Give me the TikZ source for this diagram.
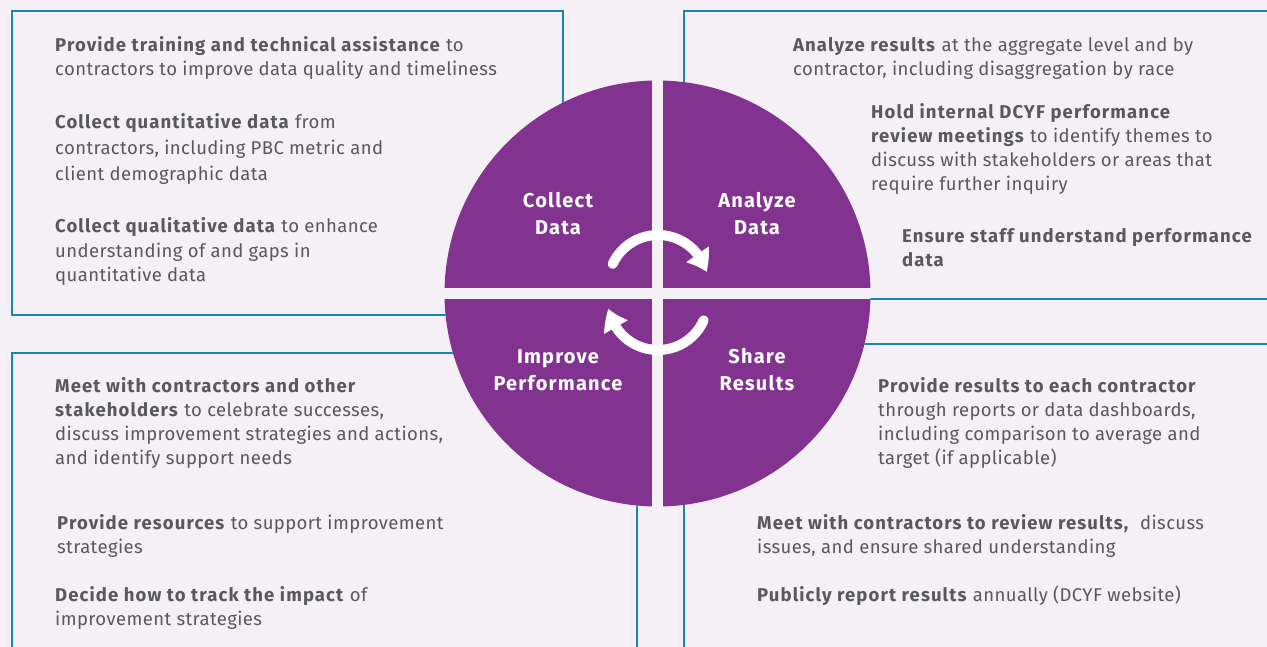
\documentclass[tikz,border=0pt]{standalone}
\usepackage{fontspec}
\setmainfont{Fira Sans}[LetterSpace=2.2, BoldFeatures={LetterSpace=6}]
\usetikzlibrary{arrows.meta,bending}
\definecolor{pagebg}{RGB}{244,240,246}
\definecolor{cyclepurple}{RGB}{130,51,144}
\definecolor{frameteal}{RGB}{22,136,170}
\definecolor{bodygray}{RGB}{88,89,91}
\begin{document}
\begin{tikzpicture}[x=1pt,y=-1pt,
    frame/.style={draw=frameteal, line width=2.5pt},
    item/.style={anchor=base west, inner sep=0pt, align=left, text=bodygray,
      font=\fontsize{18.5}{24}\selectfont},
    stage/.style={text=white, align=center, inner sep=0pt, font=\fontsize{20}{27}\selectfont\bfseries},
    turn/.style={white, line width=10pt, line cap=round, -{Triangle[length=20pt,width=26pt,bend]}}]
  \fill[pagebg] (0,0) rectangle (1267,647);
  \useasboundingbox (0,0) rectangle (1267,647);
  \clip (0,0) rectangle (1267,647);
  % frames
  \draw[frame] (12,11) rectangle (563,315);
  \draw[frame] (684,11) rectangle (1290,299);
  \draw[frame] (12,353) rectangle (637,670);
  \draw[frame] (684,344) rectangle (1290,670);
  % cycle
  \coordinate (c) at (657.5,293.5);
  \fill[pagebg] (c) circle (213);
  \begin{scope}
    \clip (c) circle (213);
    \foreach \sx/\sy in {-1/-1,1/-1,-1/1,1/1}
      \fill[cyclepurple] ([shift={(\sx*5.5,\sy*5.5)}]c) rectangle ++(\sx*230,\sy*230);
  \end{scope}
  \node[stage] (collect) at (558,214) {Collect\\Data};
  \node[stage] (analyze) at (757,214) {Analyze\\Data};
  \node[stage] (improve) at (558,370) {Improve\\Performance};
  \node[stage] (share) at (757,370) {Share\\Results};
  \draw[turn] (658,285) ++(205:50) arc[start angle=205, end angle=345, radius=50];
  \draw[turn] (658,300) ++(24:50) arc[start angle=24, end angle=170, radius=50];
  % collect (anchors sit on the last baseline)
  \node[item] (training) at (55,76) {\textbf{Provide training and technical assistance} to\\contractors to improve data quality and timeliness};
  \node[item, font=\fontsize{18.5}{26}\selectfont] (quanti) at (55,181) {\textbf{Collect quantitative data} from\\contractors, including PBC metric and\\client demographic data};
  \node[item] (quali) at (55,281) {\textbf{Collect qualitative data} to enhance\\understanding of and gaps in\\quantitative data};
  % analyze
  \node[item] (aggregate) at (793,76) {\textbf{Analyze results} at the aggregate level and by\\contractor, including disaggregation by race};
  \node[item] (review) at (871,191) {\textbf{Hold internal DCYF performance}\\\textbf{review meetings} to identify themes to\\discuss with stakeholders or areas that\\require further inquiry};
  \node[item] (staff) at (902,266) {\textbf{Ensure staff understand performance}\\\textbf{data}};
  % improve
  \node[item] (meet) at (55,464) {\textbf{Meet with contractors and other}\\\textbf{stakeholders} to celebrate successes,\\discuss improvement strategies and actions,\\and identify support needs};
  \node[item] (resources) at (57,553) {\textbf{Provide resources} to support improvement\\strategies};
  \node[item] (impact) at (55,625) {\textbf{Decide how to track the impact} of\\improvement strategies};
  % share
  \node[item] (results) at (878,464) {\textbf{Provide results to each contractor}\\through reports or data dashboards,\\including comparison to average and\\target (if applicable)};
  \node[item] (discuss) at (757,553) {\textbf{Meet with contractors to review results,}~ discuss\\issues, and ensure shared understanding};
  \node[item] (public) at (757,601) {\textbf{Publicly report results} annually (DCYF website)};
\end{tikzpicture}
\end{document}
